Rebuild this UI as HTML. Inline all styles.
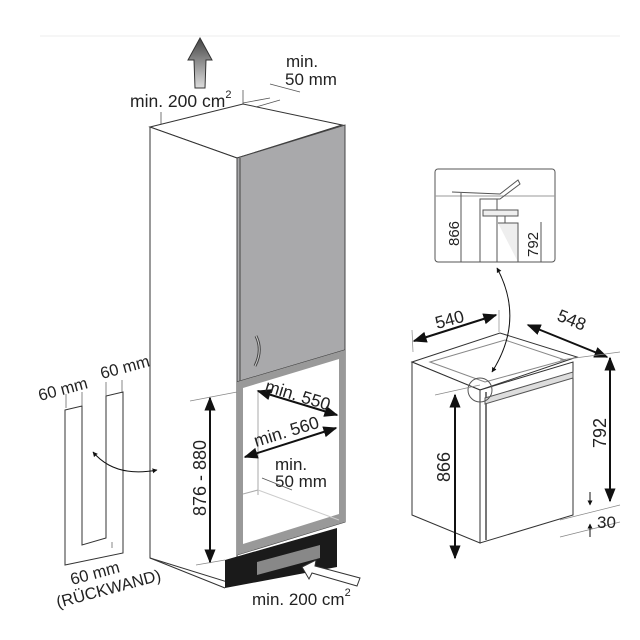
<!DOCTYPE html>
<html><head><meta charset="utf-8"><style>html,body{margin:0;padding:0;background:#fff}svg{display:block}text{font-family:"Liberation Sans",sans-serif;fill:#222}</style></head>
<body>
<svg width="640" height="640" viewBox="0 0 640 640" xmlns="http://www.w3.org/2000/svg">
<defs>
<marker id="a" viewBox="0 0 10 10" refX="9" refY="5" markerWidth="5" markerHeight="5" orient="auto-start-reverse"><path d="M0,0L10,5L0,10z" fill="#111"/></marker>
<marker id="s" viewBox="0 0 10 10" refX="9" refY="5" markerWidth="7" markerHeight="7" orient="auto-start-reverse"><path d="M0,1L10,5L0,9z" fill="#111"/></marker>
<linearGradient id="g" x1="0" y1="0" x2="0" y2="1"><stop offset="0" stop-color="#444"/><stop offset="1" stop-color="#ddd"/></linearGradient>
</defs>
<line x1="40" y1="36" x2="620" y2="36" stroke="#eee"/>
<path d="M200,38 L212,60 L206,60 L205,88 L195,88 L194,60 L188,60Z" fill="url(#g)" stroke="#333" stroke-width="1"/>
<text x="130" y="107" font-size="17.5">min. 200 cm<tspan font-size="11" dy="-9">2</tspan></text>
<text x="286" y="67" font-size="17">min.</text><text x="285" y="85" font-size="17">50 mm</text>
<g stroke="#555" stroke-width="0.8" fill="none">
<path d="M161,124 L161,112 M173,128 L243,104 L243,90 M243,103 L270,98 M256,107 L280,100 M270,84 L300,92"/>
</g>
<polygon points="150,127 243,104 342,125 237,158" fill="#fff" stroke="#333"/>
<polygon points="150,127 237,158 237,585 150,558" fill="#fff" stroke="#333"/>
<polygon points="237,158 345,125 345,350 237,382" fill="#a9a9ab" stroke="#444"/>
<line x1="240" y1="158" x2="240" y2="381" stroke="#777" stroke-width="2"/>
<path d="M256,336 Q263,350 255,366" stroke="#444" stroke-width="3" fill="none"/>
<path d="M256,336 Q263,350 255,366" stroke="#ccc" stroke-width="1" fill="none"/>
<polygon points="237,382 345,350 345,522 237,555" fill="#fff" stroke="#444"/>
<path d="M237,382 L345,350 L345,522 L237,555Z M243,388 L339,359 L339,514 L243,544Z" fill="#999" fill-rule="evenodd"/>
<line x1="258" y1="390" x2="258" y2="495" stroke="#aaa"/>
<line x1="243" y1="494" x2="258" y2="490" stroke="#aaa"/>
<line x1="258" y1="490" x2="339" y2="520" stroke="#ccc"/>
<polygon points="225,560 337,528 337,567 225,588" fill="#1a1a1a"/>
<polygon points="257,562 320,545 320,558 257,575" fill="#888"/>
<line x1="150" y1="558" x2="225" y2="588" stroke="#333"/>
<line x1="190" y1="401" x2="237" y2="392" stroke="#888" stroke-width="0.7"/>
<line x1="196" y1="565" x2="225" y2="560" stroke="#888" stroke-width="0.7"/>
<line x1="210" y1="398" x2="210" y2="562" stroke="#111" stroke-width="2" marker-start="url(#s)" marker-end="url(#s)"/>
<text transform="translate(206,516) rotate(-90)" font-size="18">876 - 880</text>
<line x1="258" y1="391" x2="337" y2="415" stroke="#111" stroke-width="2" marker-start="url(#s)" marker-end="url(#s)"/>
<text transform="translate(264,391) rotate(17)" font-size="17.5">min. 550</text>
<line x1="245" y1="457" x2="336" y2="428" stroke="#111" stroke-width="2" marker-start="url(#s)" marker-end="url(#s)"/>
<text transform="translate(256,447) rotate(-17)" font-size="17.5">min. 560</text>
<text x="275" y="470" font-size="17">min.</text><text x="275" y="487" font-size="17">50 mm</text>
<line x1="262" y1="478" x2="292" y2="490" stroke="#555" stroke-width="0.8"/>
<text x="252" y="605" font-size="17">min. 200 cm<tspan font-size="11" dy="-9">2</tspan></text>
<path d="M302,567 L316,560 L315,566 L360,578 L357,586 L312,573 L309,579Z" fill="#fff" stroke="#333"/>
<path d="M65,410 L82,406 L82,545 L106,538 L106,396 L123,392 L123,553 L65,565Z" fill="#fff" stroke="#333" stroke-width="1"/>
<path d="M66,408 L66,394 M82,406 L82,392 M106,396 L106,382 M122,393 L122,380 M112,548 L112,542" stroke="#555" stroke-width="0.7" fill="none"/>
<text transform="translate(40,401) rotate(-15)" font-size="16.5">60 mm</text>
<text transform="translate(102,379) rotate(-15)" font-size="16.5">60 mm</text>
<text transform="translate(72,585) rotate(-15)" font-size="16.5">60 mm</text>
<text transform="translate(58,608) rotate(-15)" font-size="16.5">(RÜCKWAND)</text>
<path d="M93,452 Q115,478 157,470" stroke="#111" fill="none" stroke-width="1" marker-start="url(#a)" marker-end="url(#a)"/>
<polygon points="412,362 500,333 577,357 480,390" fill="#fff" stroke="#333"/>
<polygon points="430,362 505,340 565,360 485,382" fill="none" stroke="#888"/>
<polygon points="412,362 480,390 480,543 412,515" fill="#fff" stroke="#333"/>
<polygon points="480,390 573,362 573,515 480,543" fill="#fff" stroke="#333"/>
<line x1="486" y1="392" x2="486" y2="540" stroke="#777" stroke-width="2"/>
<polygon points="485,398 573,372 573,378 485,404" fill="#ddd" stroke="#555"/>
<circle cx="480" cy="390" r="12" fill="none" stroke="#555"/>
<line x1="413" y1="352" x2="412" y2="330" stroke="#888" stroke-width="0.7"/>
<line x1="499" y1="332" x2="499" y2="310" stroke="#888" stroke-width="0.7"/>
<line x1="414" y1="341" x2="496" y2="315" stroke="#111" stroke-width="2" marker-start="url(#s)" marker-end="url(#s)"/>
<text transform="translate(437,329) rotate(-15)" font-size="17.5">540</text>
<line x1="528" y1="325" x2="607" y2="357" stroke="#111" stroke-width="2" marker-start="url(#s)" marker-end="url(#s)"/>
<text transform="translate(556,320) rotate(22)" font-size="17.5">548</text>
<line x1="560" y1="360" x2="620" y2="352" stroke="#888" stroke-width="0.7"/>
<line x1="610" y1="358" x2="610" y2="501" stroke="#111" stroke-width="2" marker-start="url(#s)" marker-end="url(#s)"/>
<text transform="translate(606,448) rotate(-90)" font-size="18">792</text>
<line x1="560" y1="520" x2="620" y2="505" stroke="#888" stroke-width="0.7"/>
<line x1="560" y1="537" x2="620" y2="522" stroke="#888" stroke-width="0.7"/>
<line x1="590" y1="492" x2="590" y2="505" stroke="#111" marker-end="url(#a)"/>
<line x1="590" y1="537" x2="590" y2="524" stroke="#111" marker-end="url(#a)"/>
<text x="597" y="528" font-size="17">30</text>
<line x1="435" y1="395" x2="480" y2="385" stroke="#888" stroke-width="0.7"/>
<line x1="455" y1="395" x2="455" y2="558" stroke="#111" stroke-width="2" marker-start="url(#s)" marker-end="url(#s)"/>
<text transform="translate(450,482) rotate(-90)" font-size="18">866</text>
<rect x="435" y="169" width="120" height="93" rx="3" fill="#fff" stroke="#555"/>
<path d="M435,196 L555,196" stroke="#999"/>
<path d="M452,192 L500,194 L518,180 L520,184 L500,199 L480,199 L480,262 M497,199 L497,262" stroke="#555" fill="none"/>
<path d="M483,210 L518,210 L518,216 L483,216Z M498,223 L518,223 L518,262 M505,216 L505,223" stroke="#555" fill="#eee"/>
<line x1="461" y1="193" x2="461" y2="262" stroke="#555"/>
<line x1="541" y1="222" x2="541" y2="262" stroke="#555"/>
<text transform="translate(459,246) rotate(-90)" font-size="15">866</text>
<text transform="translate(538,257) rotate(-90)" font-size="15">792</text>
<path d="M497,268 Q525,320 492,372" stroke="#111" fill="none" stroke-width="1" marker-start="url(#a)" marker-end="url(#a)"/>
</svg>
</body></html>
